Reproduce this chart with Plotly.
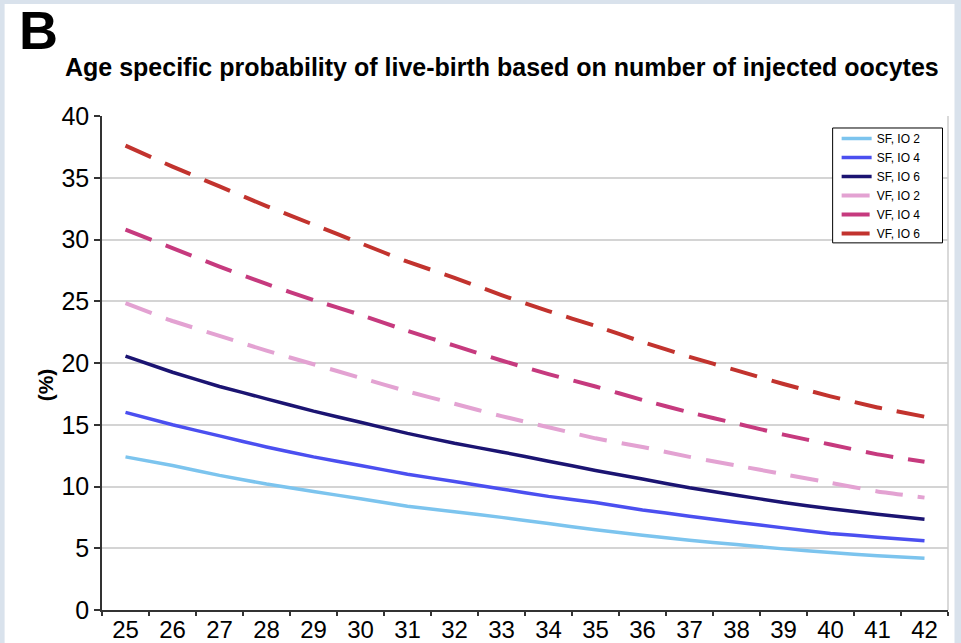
import plotly.graph_objects as go

ages = [str(a) for a in range(25, 43)]

sf_io2 = [12.4, 11.7, 10.9, 10.2, 9.6, 9.0, 8.4, 7.95, 7.5, 7.0, 6.5, 6.05, 5.65, 5.3, 4.95, 4.65, 4.4, 4.2]
sf_io4 = [16.0, 15.0, 14.1, 13.2, 12.4, 11.7, 11.0, 10.4, 9.8, 9.2, 8.7, 8.1, 7.6, 7.1, 6.65, 6.2, 5.9, 5.6]
sf_io6 = [20.55, 19.25, 18.1, 17.1, 16.1, 15.2, 14.3, 13.5, 12.8, 12.05, 11.3, 10.6, 9.9, 9.3, 8.7, 8.2, 7.75, 7.35]
vf_io2 = [24.85, 23.4, 22.2, 21.0, 19.9, 18.8, 17.7, 16.7, 15.7, 14.8, 13.9, 13.2, 12.4, 11.7, 11.0, 10.3, 9.6, 9.1]
vf_io4 = [30.8, 29.3, 27.8, 26.4, 25.1, 23.9, 22.6, 21.4, 20.2, 19.1, 18.1, 17.0, 16.0, 15.1, 14.2, 13.4, 12.6, 12.0]
vf_io6 = [37.6, 35.9, 34.3, 32.7, 31.2, 29.7, 28.2, 26.9, 25.5, 24.2, 23.0, 21.7, 20.5, 19.4, 18.3, 17.3, 16.4, 15.65]

series_names = ["SF, IO 2", "SF, IO 4", "SF, IO 6", "VF, IO 2", "VF, IO 4", "VF, IO 6"]
series_values = [sf_io2, sf_io4, sf_io6, vf_io2, vf_io4, vf_io6]
colors = ["#7cc4ee", "#4b4ff0", "#1b1472", "#e3a2d2", "#c63a7e", "#c2332e"]
dashes = ["solid", "solid", "solid", "28px,15px", "28px,15px", "28px,15px"]
widths = [3.5, 3.5, 3.5, 4, 4, 4]

y_ticks = [0, 5, 10, 15, 20, 25, 30, 35, 40]

FONT = "Liberation Sans, Arial, sans-serif"

fig = go.Figure()
for name, vals, c, d, w in zip(series_names, series_values, colors, dashes, widths):
    fig.add_trace(go.Scatter(
        x=ages, y=vals, mode="lines", name=name,
        line=dict(color=c, width=w, dash=d, shape="spline", smoothing=0.3),
    ))

# plot-area geometry (px) used for placing the panel and titles
L, R, T, B = 101.5, 948.5, 116, 610.5
W, H = R - L, B - T
def px_x(p):
    return (p - L) / W
def px_y(p):
    return (B - p) / H

fig.add_shape(type="rect", xref="paper", yref="paper",
              x0=px_x(4), x1=px_x(955), y0=px_y(4), y1=px_y(660),
              fillcolor="white", line=dict(width=0), layer="below")
fig.add_shape(type="line", xref="paper", yref="paper", x0=1, x1=1, y0=0, y1=1,
              line=dict(color="#cccccc", width=1.5))
# legend frame
fig.add_shape(type="rect", xref="paper", yref="paper",
              x0=px_x(833), x1=px_x(943), y0=px_y(128), y1=px_y(243),
              fillcolor="white", line=dict(color="black", width=1), layer="above")

fig.add_annotation(text="<b>B</b>", xref="paper", yref="paper",
                   x=px_x(16), y=px_y(29.5), xanchor="left", yanchor="middle",
                   showarrow=False, font=dict(family=FONT, size=54, color="black"))
fig.add_annotation(text="<b>Age specific probability of live-birth based on number of injected oocytes</b>",
                   xref="paper", yref="paper",
                   x=px_x(502), y=px_y(67), xanchor="center", yanchor="middle",
                   showarrow=False, font=dict(family=FONT, size=25, color="black"))
fig.add_annotation(text="<b>(%)</b>", xref="paper", yref="paper", textangle=-90,
                   x=px_x(45), y=px_y(385), xanchor="center", yanchor="middle",
                   showarrow=False, font=dict(family=FONT, size=21, color="black"))

fig.update_layout(
    width=961, height=643,
    margin=dict(l=L, r=961 - R, t=T, b=643 - B, pad=0),
    paper_bgcolor="#d9e2ec",
    plot_bgcolor="white",
    font=dict(family=FONT, color="black"),
    showlegend=True,
    legend=dict(
        x=px_x(837), y=px_y(124), xanchor="left", yanchor="top",
        bgcolor="rgba(0,0,0,0)", borderwidth=0,
        font=dict(family=FONT, size=12, color="black"),
        tracegroupgap=0, itemwidth=30,
    ),
    xaxis=dict(
        type="category", range=[-0.5, 17.5], automargin=False,
        tickson="boundaries", ticks="outside", ticklen=4, tickwidth=1.5, tickcolor="#333",
        showline=True, linecolor="#333", linewidth=1.5,
        showgrid=False, zeroline=False, ticklabelstandoff=-3,
        tickfont=dict(family=FONT, size=24, color="black"),
    ),
    yaxis=dict(
        range=[0, 40], tickvals=y_ticks, automargin=False,
        ticks="outside", ticklen=6, tickwidth=1.5, tickcolor="#333",
        showline=True, linecolor="#333", linewidth=1.5,
        showgrid=True, gridcolor="#d4d4d4", gridwidth=1.5, zeroline=False,
        tickfont=dict(family=FONT, size=25, color="black"),
    ),
)

fig.write_html("out.html", config={"displayModeBar": False},
               post_script="document.body.style.margin='0';")
